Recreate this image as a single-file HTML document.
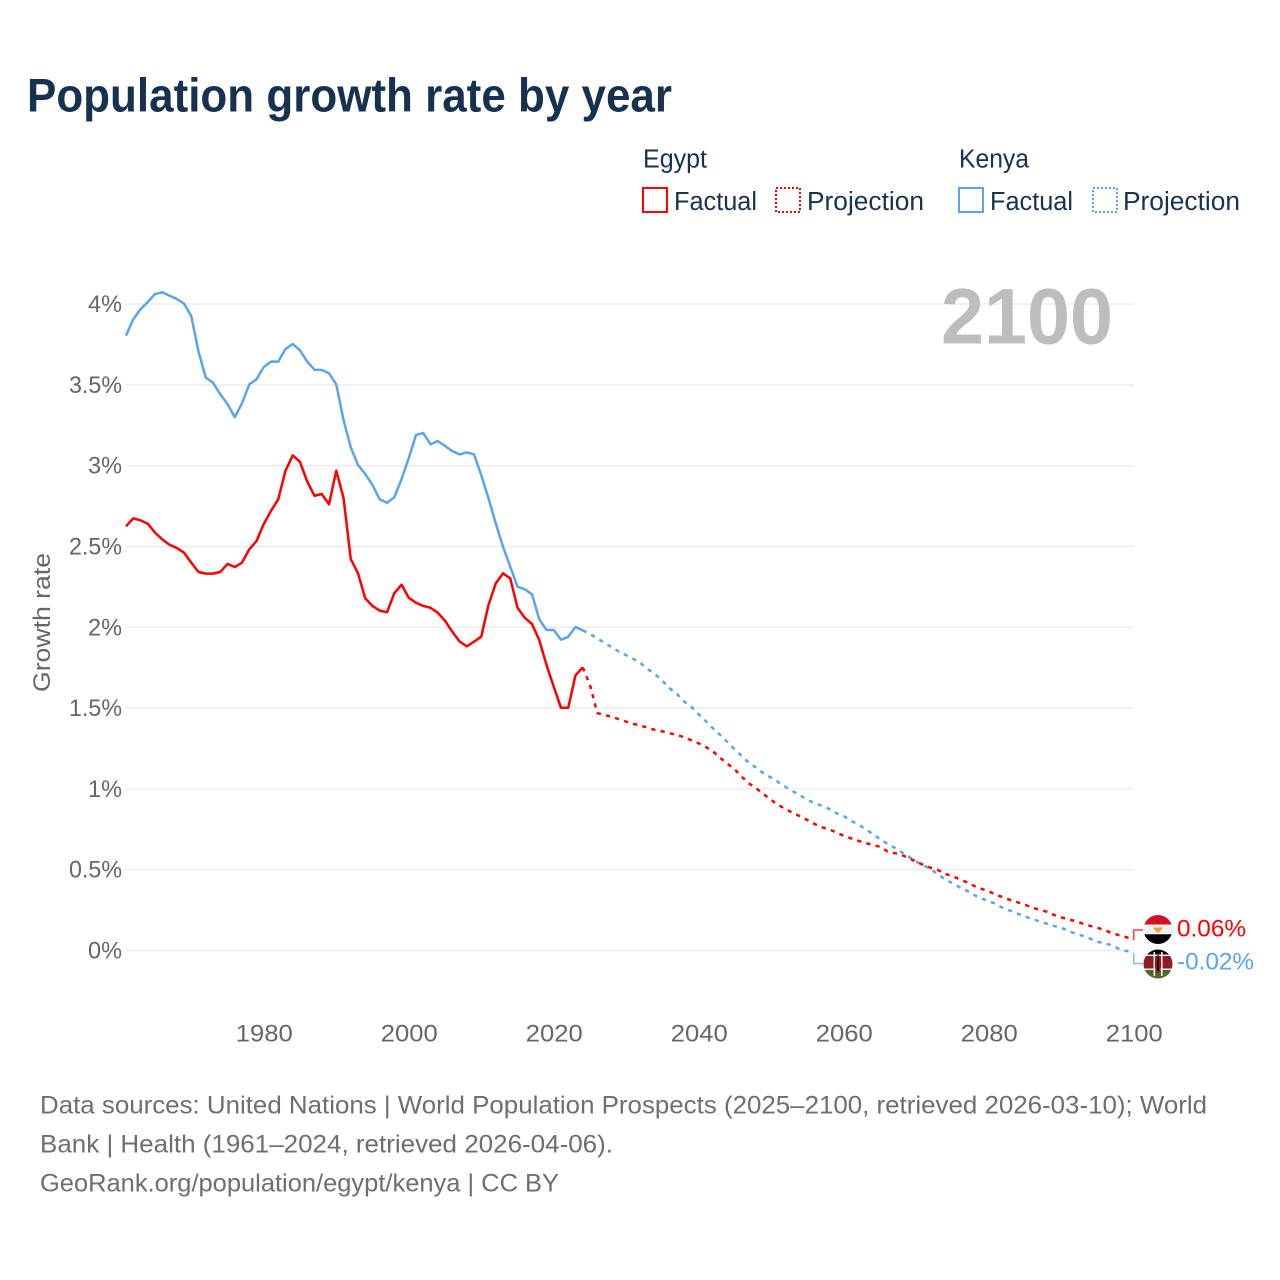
<!DOCTYPE html>
<html lang="en">
<head>
<meta charset="utf-8">
<title>Population growth rate by year</title>
<style>
  html, body { margin: 0; padding: 0; background: #fff; }
  svg { display: block; }
  text { font-family: "Liberation Sans", "DejaVu Sans", sans-serif; }
</style>
</head>
<body>
<svg id="chart" xmlns="http://www.w3.org/2000/svg" width="1280" height="1280" viewBox="0 0 1280 1280">
  <defs>
    <clipPath id="flag-clip-egypt"><circle cx="1158" cy="929.5" r="14.5"/></clipPath>
    <clipPath id="flag-clip-kenya"><circle cx="1158" cy="964" r="14.5"/></clipPath>
  </defs>
  <rect x="0" y="0" width="1280" height="1280" fill="#fff"/>

  <text x="27" y="111.5" font-size="47" font-weight="700" fill="#17324f" textLength="645" lengthAdjust="spacingAndGlyphs">Population growth rate by year</text>

  <g>
    <text x="643" y="167.5" font-size="25.5" fill="#17324f" textLength="64" lengthAdjust="spacingAndGlyphs">Egypt</text>
    <rect x="643" y="188" width="24" height="24" fill="none" stroke="#ff0000" stroke-width="2"/>
    <text x="674" y="210" font-size="25.5" fill="#17324f" textLength="83" lengthAdjust="spacingAndGlyphs">Factual</text>
    <rect x="776" y="188" width="24" height="24" fill="none" stroke="#ff0000" stroke-width="2" stroke-dasharray="2 2"/>
    <text x="807" y="210" font-size="25.5" fill="#17324f" textLength="117" lengthAdjust="spacingAndGlyphs">Projection</text>

    <text x="959" y="167.5" font-size="25.5" fill="#17324f" textLength="70" lengthAdjust="spacingAndGlyphs">Kenya</text>
    <rect x="959" y="188" width="24" height="24" fill="none" stroke="#5ba4ea" stroke-width="2"/>
    <text x="990" y="210" font-size="25.5" fill="#17324f" textLength="83" lengthAdjust="spacingAndGlyphs">Factual</text>
    <rect x="1093" y="188" width="24" height="24" fill="none" stroke="#5ba4ea" stroke-width="2" stroke-dasharray="2 2"/>
    <text x="1123" y="210" font-size="25.5" fill="#17324f" textLength="117" lengthAdjust="spacingAndGlyphs">Projection</text>
  </g>

  <g id="grid"></g>
  <g id="y-ticks"></g>
  <g id="x-ticks"></g>

  <text transform="translate(50,622.5) rotate(-90)" text-anchor="middle" font-size="24.5" fill="#666666" textLength="139" lengthAdjust="spacingAndGlyphs">Growth rate</text>

  <text x="941" y="343.5" font-size="79" font-weight="700" fill="#bdbdbd" textLength="172" lengthAdjust="spacingAndGlyphs">2100</text>

  <g id="series"></g>
  <g id="end-connectors"></g>

  <g clip-path="url(#flag-clip-egypt)">
    <rect x="1143" y="915" width="30" height="10" fill="#ce1126"/>
    <rect x="1143" y="924.5" width="30" height="10" fill="#f0f0f0"/>
    <rect x="1143" y="934.3" width="30" height="11" fill="#000000"/>
    <path d="M1153 927.5 L1163 927.5 L1160.5 931 L1158 933 L1155.5 931 Z" fill="#f0a530"/>
  </g>
  <g clip-path="url(#flag-clip-kenya)">
    <rect x="1143" y="949" width="30" height="6" fill="#000000"/>
    <rect x="1143" y="954.5" width="30" height="1.6" fill="#f0f0f0"/>
    <rect x="1143" y="956" width="30" height="12.5" fill="#8f1c24"/>
    <rect x="1143" y="968.5" width="30" height="1.6" fill="#f0f0f0"/>
    <rect x="1143" y="970" width="30" height="9" fill="#4a6b2a"/>
    <rect x="1153.5" y="952" width="1.6" height="24" fill="#f0f0f0"/>
    <rect x="1161" y="952" width="1.6" height="24" fill="#f0f0f0"/>
    <ellipse cx="1158" cy="964" rx="3.2" ry="9" fill="#8f1c24"/>
    <rect x="1157.2" y="957" width="1.6" height="14" fill="#101010"/>
  </g>

  <g id="end-labels"></g>

  <g fill="#6e6e6e" font-size="25">
    <text x="40" y="1113.5" textLength="1167" lengthAdjust="spacingAndGlyphs">Data sources: United Nations | World Population Prospects (2025–2100, retrieved 2026-03-10); World</text>
    <text x="40" y="1152.5" textLength="573" lengthAdjust="spacingAndGlyphs">Bank | Health (1961–2024, retrieved 2026-04-06).</text>
    <text x="40" y="1191.5" textLength="519" lengthAdjust="spacingAndGlyphs">GeoRank.org/population/egypt/kenya | CC BY</text>
  </g>
</svg>

<script>
const factualStartYear = 1961;
const projectionStartYear = 2025;

const xTickYears = [1980, 2000, 2020, 2040, 2060, 2080, 2100];
const yTickValues = [0, 0.5, 1, 1.5, 2, 2.5, 3, 3.5, 4];
const yTickLabels = ["0%", "0.5%", "1%", "1.5%", "2%", "2.5%", "3%", "3.5%", "4%"];
const endLabels = ["0.06%", "-0.02%"];

const egyptFactual = [
  2.625, 2.674, 2.662, 2.641, 2.586, 2.544, 2.511, 2.491, 2.462, 2.40,
  2.342, 2.332, 2.332, 2.342, 2.392, 2.373, 2.40, 2.482, 2.534, 2.639,
  2.72, 2.792, 2.969, 3.064, 3.023, 2.901, 2.814, 2.825, 2.761, 2.969,
  2.802, 2.423, 2.334, 2.179, 2.132, 2.103, 2.093, 2.21, 2.264, 2.183,
  2.152, 2.132, 2.121, 2.09, 2.041, 1.973, 1.913, 1.882, 1.911, 1.942,
  2.138, 2.272, 2.334, 2.303, 2.121, 2.059, 2.02, 1.921, 1.767, 1.632,
  1.502, 1.502, 1.703, 1.752
];
const egyptProjection = [
  1.643, 1.47, 1.455, 1.449, 1.43, 1.416, 1.402, 1.391, 1.379, 1.364,
  1.356, 1.344, 1.334, 1.319, 1.30, 1.282, 1.259, 1.23, 1.191, 1.154,
  1.119, 1.072, 1.032, 1.001, 0.966, 0.931, 0.90, 0.874, 0.851, 0.83,
  0.807, 0.783, 0.762, 0.75, 0.729, 0.71, 0.694, 0.679, 0.665, 0.653,
  0.642, 0.614, 0.603, 0.591, 0.571, 0.55, 0.529, 0.512, 0.498, 0.473,
  0.461, 0.44, 0.422, 0.399, 0.382, 0.366, 0.345, 0.329, 0.312, 0.298,
  0.283, 0.265, 0.252, 0.24, 0.22, 0.205, 0.193, 0.181, 0.166, 0.152,
  0.141, 0.125, 0.108, 0.094, 0.082, 0.065
];
const kenyaFactual = [
  3.805, 3.906, 3.968, 4.013, 4.062, 4.073, 4.052, 4.032, 4.003, 3.926,
  3.706, 3.545, 3.514, 3.442, 3.382, 3.30, 3.386, 3.503, 3.535, 3.611,
  3.644, 3.644, 3.722, 3.753, 3.714, 3.644, 3.594, 3.592, 3.572, 3.503,
  3.283, 3.114, 3.004, 2.949, 2.88, 2.792, 2.771, 2.804, 2.916, 3.047,
  3.19, 3.202, 3.132, 3.153, 3.122, 3.091, 3.07, 3.082, 3.07, 2.942,
  2.798, 2.643, 2.499, 2.375, 2.251, 2.235, 2.204, 2.05, 1.983, 1.983,
  1.923, 1.942, 2.002, 1.981
];
const kenyaProjection = [
  1.958, 1.932, 1.903, 1.876, 1.849, 1.827, 1.804, 1.777, 1.74, 1.709,
  1.668, 1.622, 1.587, 1.54, 1.507, 1.461, 1.418, 1.373, 1.332, 1.288,
  1.243, 1.199, 1.16, 1.129, 1.094, 1.069, 1.041, 1.012, 0.985, 0.96,
  0.931, 0.913, 0.894, 0.876, 0.849, 0.832, 0.803, 0.779, 0.752, 0.721,
  0.69, 0.661, 0.636, 0.608, 0.579, 0.55, 0.527, 0.502, 0.471, 0.44,
  0.416, 0.391, 0.37, 0.343, 0.321, 0.306, 0.288, 0.261, 0.246, 0.228,
  0.212, 0.193, 0.181, 0.166, 0.152, 0.141, 0.121, 0.104, 0.09, 0.073,
  0.054, 0.045, 0.032, 0.009, -0.003, -0.017
];

const NS = "http://www.w3.org/2000/svg";
const RED = "#ff0000";
const BLUE = "#5ba4ea";

function xScale(year) { return 126 + (year - 1961) * 7.25; }
function yScale(value) { return 950.5 - value * 161.6; }

function make(tag, parentId, attrs) {
  const el = document.createElementNS(NS, tag);
  for (const k in attrs) el.setAttribute(k, attrs[k]);
  document.getElementById(parentId).appendChild(el);
  return el;
}

function linePoints(values, startYear) {
  return values.map(function (v, i) {
    return xScale(startYear + i).toFixed(2) + "," + yScale(v).toFixed(2);
  });
}

yTickValues.forEach(function (v, i) {
  const line = make("line", "grid", {
    x1: xScale(1961), x2: xScale(2100), y1: yScale(v), y2: yScale(v),
    stroke: "#ebebeb", "stroke-width": 1.4
  });
  
  
  const label = make("text", "y-ticks", {
    x: 122, y: yScale(v) + 8, "text-anchor": "end", "font-size": 24.5, fill: "#666666",
    textLength: yTickLabels[i].length > 2 ? 53 : 34, lengthAdjust: "spacingAndGlyphs"
  });
  
  
  label.textContent = yTickLabels[i];
});

xTickYears.forEach(function (year) {
  const label = make("text", "x-ticks", {
    x: xScale(year) + 0.5, y: 1041.5, "text-anchor": "middle", "font-size": 24.5, fill: "#666666",
    textLength: 57, lengthAdjust: "spacingAndGlyphs"
  });
  
  
  label.textContent = String(year);
});

function drawFactual(values, color, name) {
  const line = make("polyline", "series", {
    points: linePoints(values, factualStartYear).join(" "),
    fill: "none", stroke: color, "stroke-width": 2.5, "stroke-linejoin": "round"
  });
  
  
}

function drawProjection(factual, values, color, name) {
  const lastYear = factualStartYear + factual.length - 1;
  const start = xScale(lastYear).toFixed(2) + "," + yScale(factual[factual.length - 1]).toFixed(2);
  const line = make("polyline", "series", {
    points: [start].concat(linePoints(values, projectionStartYear)).join(" "),
    fill: "none", stroke: color, "stroke-width": 2.5, "stroke-dasharray": "4.2 5.3"
  });
  
  
}

drawFactual(kenyaFactual, BLUE, "kenya-factual-line");
drawProjection(kenyaFactual, kenyaProjection, BLUE, "kenya-projection-line");
drawFactual(egyptFactual, RED, "egypt-factual-line");
drawProjection(egyptFactual, egyptProjection, RED, "egypt-projection-line");

function drawConnector(values, labelY, color, name) {
  const x0 = xScale(2100);
  const y0 = yScale(values[values.length - 1]);
  const c = make("polyline", "end-connectors", {
    points: x0 + "," + y0 + " " + x0 + "," + labelY + " 1143," + labelY,
    fill: "none", stroke: color, "stroke-width": 1.6, opacity: 0.75
  });
  
  
}
drawConnector(egyptProjection, 930, RED, "egypt-end-connector");
drawConnector(kenyaProjection, 963.5, BLUE, "kenya-end-connector");

const egyptEndLabel = make("text", "end-labels", {
  x: 1177, y: 936.5, "font-size": 24.5, fill: RED, textLength: 69, lengthAdjust: "spacingAndGlyphs"
});


egyptEndLabel.textContent = endLabels[0];

const kenyaEndLabel = make("text", "end-labels", {
  x: 1177, y: 969.5, "font-size": 24.5, fill: BLUE, textLength: 77, lengthAdjust: "spacingAndGlyphs"
});


kenyaEndLabel.textContent = endLabels[1];
</script>
</body>
</html>
